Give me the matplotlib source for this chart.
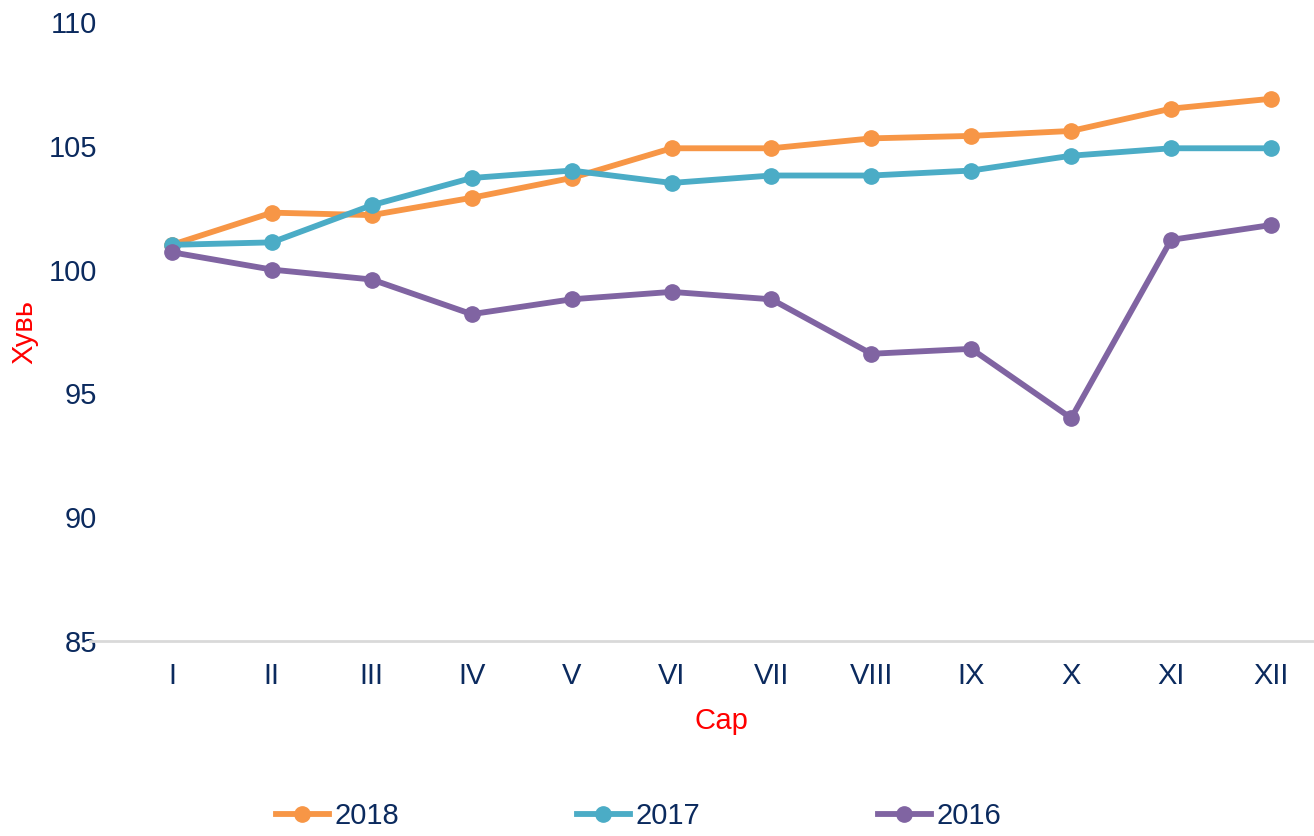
import matplotlib
matplotlib.use("Agg")
import matplotlib.pyplot as plt

plt.rcParams['font.family'] = ['Liberation Sans', 'DejaVu Sans']

months = ["I", "II", "III", "IV", "V", "VI", "VII", "VIII", "IX", "X", "XI", "XII"]
y2018 = [101.0, 102.3, 102.2, 102.9, 103.7, 104.9, 104.9, 105.3, 105.4, 105.6, 106.5, 106.9]
y2017 = [101.0, 101.1, 102.6, 103.7, 104.0, 103.5, 103.8, 103.8, 104.0, 104.6, 104.9, 104.9]
y2016 = [100.7, 100.0, 99.6, 98.2, 98.8, 99.1, 98.8, 96.6, 96.8, 94.0, 101.2, 101.8]
yticks = [85, 90, 95, 100, 105, 110]

navy = "#0B2A5E"
fs = 21
fig = plt.figure(figsize=(13.14, 8.36), dpi=100)
ax = fig.add_axes([90 / 1314, 1 - 641 / 836, 1 - 90 / 1314, (641 - 22) / 836])

x = range(len(months))
ax.plot(x, y2018, color="#F79646", lw=4.2, marker="o", ms=11, label="2018", zorder=3)
ax.plot(x, y2017, color="#4BACC6", lw=4.2, marker="o", ms=11, label="2017", zorder=3)
ax.plot(x, y2016, color="#8064A2", lw=4.2, marker="o", ms=11, label="2016", zorder=3)

ax.set_xlim(-0.82, 11.43)
ax.set_ylim(85, 110)
ax.set_xticks(list(x))
ax.set_xticklabels(months)
ax.set_yticks(yticks)
for s in ["top", "right", "left"]:
    ax.spines[s].set_visible(False)
ax.spines["bottom"].set_color("#D9D9D9")
ax.spines["bottom"].set_linewidth(2)
ax.tick_params(axis="both", length=0, labelsize=fs, labelcolor=navy)
ax.tick_params(axis="x", pad=15)
ax.tick_params(axis="y", pad=-5)

ax.set_ylabel("Хувь", color="red", fontsize=fs)
ax.yaxis.set_label_coords(-0.042, 0.5)
ax.set_xlabel("Сар", color="red", fontsize=fs)
ax.xaxis.set_label_coords(0.516, -0.106)

leg = fig.legend(loc="lower center", bbox_to_anchor=(0.486, -0.024), ncol=3, frameon=False,
                 fontsize=fs, handlelength=1.8, handletextpad=0.2, columnspacing=6.1)
for t in leg.get_texts():
    t.set_color(navy)

fig.savefig("out.png", dpi=100)
